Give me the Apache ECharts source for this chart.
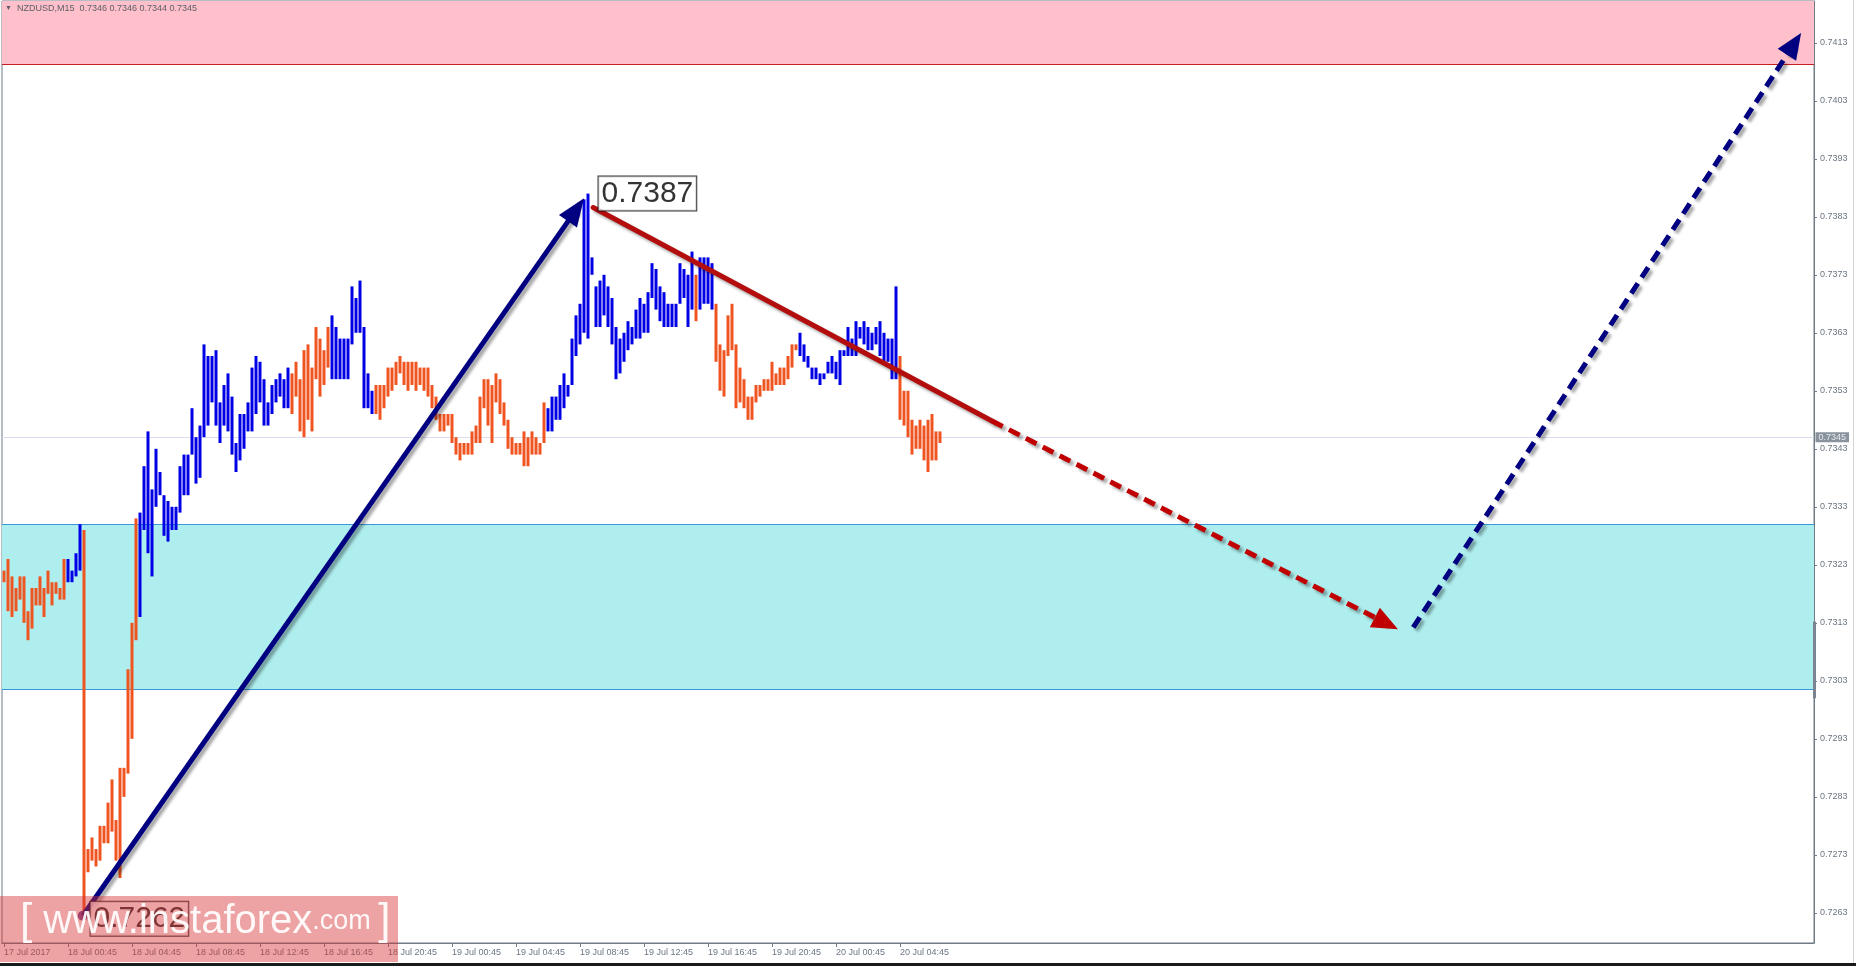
<!DOCTYPE html>
<html><head><meta charset="utf-8">
<script src="https://cdn.jsdelivr.net/npm/echarts@6/dist/echarts.min.js"></script>
<style>html,body{margin:0;padding:0;background:#fff;overflow:hidden}#c{width:1856px;height:966px}</style>
</head><body><div id="c"></div>
<script>
// ---------------- data ----------------
const barHighs = [
0.7322,0.7324,0.7321,0.7319,0.7321,0.7321,0.7315,0.7319,0.7319,0.7321,0.7319,0.7322,0.7320,0.7320,0.7319,0.7324,0.7324,0.7322,0.7325,0.7330,
0.7329,0.7274,0.7276,0.7274,0.7278,0.7278,0.7282,0.7286,0.7279,0.7288,0.7288,0.7305,0.7313,0.7331,0.7332,0.7340,0.7346,0.7336,0.7343,0.7339,
0.7335,0.7334,0.7333,0.7333,0.7340,0.7342,0.7342,0.7350,0.7345,0.7347,0.7361,0.7359,0.7359,0.7360,0.7351,0.7354,0.7356,0.7352,0.7344,0.7349,
0.7349,0.7351,0.7357,0.7359,0.7358,0.7355,0.7351,0.7354,0.7355,0.7356,0.7355,0.7357,0.7356,0.7358,0.7355,0.7360,0.7361,0.7357,0.7364,0.7362,
0.7360,0.7364,0.7366,0.7364,0.7362,0.7362,0.7362,0.7371,0.7369,0.7372,0.7364,0.7356,0.7353,0.7354,0.7354,0.7354,0.7357,0.7357,0.7358,0.7359,
0.7358,0.7358,0.7358,0.7358,0.7357,0.7357,0.7357,0.7354,0.7352,0.7349,0.7349,0.7349,0.7349,0.7345,0.7344,0.7344,0.7344,0.7346,0.7347,0.7352,
0.7355,0.7355,0.7354,0.7356,0.7355,0.7351,0.7348,0.7345,0.7344,0.7344,0.7346,0.7345,0.7346,0.7345,0.7344,0.7351,0.7350,0.7352,0.7352,0.7354,
0.7356,0.7354,0.7362,0.7366,0.7368,0.7386,0.7387,0.7376,0.7371,0.7372,0.7373,0.7371,0.7369,0.7364,0.7362,0.7363,0.7365,0.7364,0.7367,0.7369,
0.7368,0.7370,0.7375,0.7374,0.7371,0.7370,0.7368,0.7368,0.7368,0.7375,0.7374,0.7373,0.7377,0.7373,0.7376,0.7376,0.7376,0.7375,0.7368,0.7361,
0.7360,0.7366,0.7368,0.7361,0.7357,0.7355,0.7352,0.7352,0.7354,0.7354,0.7355,0.7355,0.7358,0.7356,0.7357,0.7357,0.7359,0.7361,0.7361,0.7363,
0.7361,0.7359,0.7357,0.7357,0.7356,0.7356,0.7358,0.7359,0.7358,0.7360,0.7360,0.7364,0.7362,0.7365,0.7364,0.7365,0.7364,0.7363,0.7364,0.7365,
0.7363,0.7362,0.7362,0.7371,0.7359,0.7353,0.7353,0.7348,0.7347,0.7348,0.7347,0.7348,0.7349,0.7346,0.7346
];
const barLows = [
0.7320,0.7315,0.7314,0.7315,0.7317,0.7313,0.7310,0.7312,0.7316,0.7316,0.7314,0.7318,0.7316,0.7318,0.7317,0.7317,0.7320,0.7320,0.7321,0.7322,
0.7262,0.7270,0.7272,0.7271,0.7272,0.7275,0.7275,0.7277,0.7272,0.7269,0.7283,0.7287,0.7293,0.7310,0.7314,0.7329,0.7325,0.7321,0.7333,0.7335,
0.7328,0.7327,0.7329,0.7329,0.7332,0.7335,0.7335,0.7342,0.7337,0.7338,0.7345,0.7347,0.7351,0.7347,0.7344,0.7347,0.7346,0.7342,0.7339,0.7341,
0.7343,0.7346,0.7346,0.7349,0.7351,0.7347,0.7347,0.7349,0.7351,0.7352,0.7350,0.7350,0.7349,0.7352,0.7346,0.7345,0.7348,0.7346,0.7355,0.7352,
0.7354,0.7357,0.7355,0.7355,0.7355,0.7355,0.7355,0.7361,0.7363,0.7363,0.7350,0.7350,0.7349,0.7349,0.7348,0.7350,0.7352,0.7353,0.7354,0.7356,
0.7354,0.7353,0.7354,0.7353,0.7354,0.7353,0.7352,0.7350,0.7348,0.7346,0.7346,0.7347,0.7344,0.7342,0.7341,0.7342,0.7342,0.7342,0.7344,0.7344,
0.7350,0.7347,0.7344,0.7351,0.7349,0.7347,0.7343,0.7342,0.7342,0.7342,0.7340,0.7340,0.7342,0.7342,0.7342,0.7344,0.7346,0.7346,0.7348,0.7348,
0.7350,0.7352,0.7354,0.7359,0.7361,0.7363,0.7362,0.7373,0.7364,0.7364,0.7366,0.7364,0.7361,0.7355,0.7356,0.7358,0.7360,0.7361,0.7362,0.7362,
0.7363,0.7363,0.7369,0.7367,0.7365,0.7364,0.7364,0.7364,0.7364,0.7368,0.7369,0.7364,0.7367,0.7365,0.7367,0.7368,0.7368,0.7367,0.7358,0.7353,
0.7352,0.7359,0.7360,0.7350,0.7351,0.7350,0.7348,0.7348,0.7351,0.7352,0.7353,0.7353,0.7353,0.7354,0.7354,0.7354,0.7355,0.7357,0.7360,0.7359,
0.7358,0.7357,0.7355,0.7355,0.7354,0.7355,0.7356,0.7356,0.7355,0.7354,0.7359,0.7359,0.7359,0.7359,0.7362,0.7361,0.7360,0.7360,0.7361,0.7359,
0.7358,0.7358,0.7355,0.7355,0.7348,0.7347,0.7345,0.7342,0.7343,0.7343,0.7341,0.7339,0.7341,0.7341,0.7344
];
// u = bullish bar (blue), d = bearish bar (orange)
const barDirs = (
'dddddddddddddddd' + 'uuuu' + 'dddddddddddddd' +
'uuuuuuuuuuuuuuuuuuuuuuuuuuuuuuuuuuuuuu' + 'dddddddddd' + 'uuuuuuuuuuu' +
'ddddddddddddddddddddddddddddddddddddddddddd' +
'uuuuuuuuuuuuuuuuuuuuuuuuuuuuuuuuuuuuu' + 'd' + 'uuuu' +
'ddddddddddddddddddddd' + 'uuuuuuuuuuuuuuuuuuuuuuuuu' + 'ddddddddddd').split('');

const firstBarTime = Date.UTC(2017, 6, 17, 20, 45);
const totalSlots = 453;
const xTickTimes = ['17 Jul 20:45','18 Jul 00:45','18 Jul 04:45','18 Jul 08:45','18 Jul 12:45','18 Jul 16:45','18 Jul 20:45',
  '19 Jul 00:45','19 Jul 04:45','19 Jul 08:45','19 Jul 12:45','19 Jul 16:45','19 Jul 20:45','20 Jul 00:45','20 Jul 04:45'];
const xTickTexts = ['17 Jul 2017','18 Jul 00:45','18 Jul 04:45','18 Jul 08:45','18 Jul 12:45','18 Jul 16:45','18 Jul 20:45',
  '19 Jul 00:45','19 Jul 04:45','19 Jul 08:45','19 Jul 12:45','19 Jul 16:45','19 Jul 20:45','20 Jul 00:45','20 Jul 04:45'];
const yTickValues = [0.7263,0.7273,0.7283,0.7293,0.7303,0.7313,0.7323,0.7333,0.7343,0.7353,0.7363,0.7373,0.7383,0.7393,0.7403,0.7413];
const yMin = 0.72578, yMax = 0.74202;
const resistanceZone = [0.74093, 0.74202];
const supportZone = [0.73016, 0.73300];
const lastPrice = 0.7345;
const shiftMarker = [0.73000, 0.73132];
const titleText = 'NZDUSD,M15  0.7346 0.7346 0.7344 0.7345';
const peakPoint = [146, 0.7387];
const troughPoint = [20, 0.7262];
const impulseArrow = [[19.7, 0.72625], [143.0, 0.73842]];
const trendLine = [[147.3, 0.73846], [247.0, 0.73478]];
const downForecast = [[247.0, 0.73478], [345.6, 0.73129]];
const upForecast = [[352.3, 0.73122], [447.5, 0.74128]];

// ---------------- build ----------------
const MONTHS = ['Jan','Feb','Mar','Apr','May','Jun','Jul','Aug','Sep','Oct','Nov','Dec'];
const pad = n => (n < 10 ? '0' : '') + n;
const categories = [];
for (let k = 0; k < totalSlots; k++) {
  const d = new Date(firstBarTime + k * 900000);
  categories.push(d.getUTCDate() + ' ' + MONTHS[d.getUTCMonth()] + ' ' + pad(d.getUTCHours()) + ':' + pad(d.getUTCMinutes()));
}
const tickText = {};
xTickTimes.forEach((t, i) => { tickText[t] = xTickTexts[i]; });
const candleData = barHighs.map((h, i) => {
  const l = barLows[i];
  return barDirs[i] === 'u' ? [l, h, l, h] : [h, l, l, h];
});
const xLeft = -0.5, xRight = totalSlots - 0.5;
const hLine = v => [[xLeft, v], [xRight, v]];

const FONT = 'Liberation Sans, Arial, sans-serif';
const AXIS_COLOR = '#6f7b87';
const LABEL_COLOR = '#6b7682';
const shadow = {shadowColor: 'rgba(0,0,0,0.35)', shadowBlur: 3, shadowOffsetX: 3, shadowOffsetY: 3};

const chart = echarts.init(document.getElementById('c'), null, {renderer: 'canvas'});
const option = {
  animation: false,
  backgroundColor: '#ffffff',
  grid: {left: 2, right: 42, top: 1, bottom: 23, show: true, borderColor: AXIS_COLOR, borderWidth: 1, backgroundColor: 'transparent'},
  xAxis: [{
    type: 'category', data: categories, boundaryGap: true,
    axisLine: {show: true, onZero: false, lineStyle: {color: AXIS_COLOR, width: 1}},
    axisTick: {show: true, alignWithLabel: true, length: 4, interval: (i, v) => v in tickText, lineStyle: {color: AXIS_COLOR}},
    axisLabel: {show: true, interval: (i, v) => v in tickText, formatter: v => tickText[v] || '', align: 'left',
      color: LABEL_COLOR, fontSize: 9, fontFamily: FONT, margin: 5, hideOverlap: false},
    splitLine: {show: false}
  }, {
    type: 'value', min: xLeft, max: xRight, show: false,
    axisLine: {onZero: false}
  }],
  yAxis: [{
    type: 'value', position: 'right', min: yMin, max: yMax,
    axisLine: {show: true, onZero: false, lineStyle: {color: AXIS_COLOR, width: 1}},
    axisTick: {show: true, length: 3, customValues: yTickValues, lineStyle: {color: AXIS_COLOR}},
    axisLabel: {show: true, customValues: yTickValues, formatter: v => v.toFixed(4), color: LABEL_COLOR, fontSize: 9, fontFamily: FONT, margin: 6},
    splitLine: {show: false}
  }],
  series: [
    {
      name: 'zones', type: 'line', data: [], xAxisIndex: 0, yAxisIndex: 0, z: 1, silent: true,
      markArea: {silent: true, data: [
        [{yAxis: resistanceZone[0], itemStyle: {color: '#ffc0cb'}}, {yAxis: resistanceZone[1]}],
        [{yAxis: supportZone[0], itemStyle: {color: '#afeeee'}}, {yAxis: supportZone[1]}]
      ]}
    },
    {
      name: 'levels', type: 'lines', coordinateSystem: 'cartesian2d', xAxisIndex: 1, yAxisIndex: 0, z: 2, silent: true,
      symbol: ['none', 'none'],
      lineStyle: {width: 1, opacity: 1, type: 'solid', curveness: 0},
      data: [
        {coords: hLine(resistanceZone[0]), lineStyle: {color: '#c81e1e'}},
        {coords: hLine(supportZone[1]), lineStyle: {color: '#3a98d8'}},
        {coords: hLine(supportZone[0]), lineStyle: {color: '#3a98d8'}},
        {coords: hLine(lastPrice), lineStyle: {color: '#dcdcf0'}}
      ]
    },
    {
      name: 'shift marker', type: 'lines', coordinateSystem: 'cartesian2d', xAxisIndex: 1, yAxisIndex: 0, z: 9, silent: true,
      clip: false, symbol: ['none', 'none'],
      lineStyle: {width: 3, opacity: 1, color: '#7a8591', curveness: 0},
      data: [{coords: [[xRight, shiftMarker[0]], [xRight, shiftMarker[1]]]}]
    },
    {
      name: 'NZDUSD', type: 'candlestick', xAxisIndex: 0, yAxisIndex: 0, z: 3, barWidth: 3,
      data: candleData,
      itemStyle: {color: '#0000e6', color0: '#ee5520', borderColor: '#0000e6', borderColor0: '#ee5520', borderWidth: 0}
    },
    {
      name: 'trend', type: 'lines', coordinateSystem: 'cartesian2d', xAxisIndex: 1, yAxisIndex: 0, z: 5,
      symbol: ['none', 'none'],
      lineStyle: Object.assign({color: '#b30d0d', width: 5, type: 'solid', opacity: 1, curveness: 0, cap: 'round'}, shadow),
      data: [{coords: trendLine}]
    },
    {
      name: 'impulse', type: 'lines', coordinateSystem: 'cartesian2d', xAxisIndex: 1, yAxisIndex: 0, z: 5,
      symbol: ['none', 'triangle'], symbolSize: [0, [22, 28]],
      lineStyle: Object.assign({color: '#000080', width: 5, type: 'solid', opacity: 1, curveness: 0}, shadow),
      data: [{coords: impulseArrow}]
    },
    {
      name: 'down forecast', type: 'lines', coordinateSystem: 'cartesian2d', xAxisIndex: 1, yAxisIndex: 0, z: 5,
      symbol: ['none', 'triangle'], symbolSize: [0, [22, 26]],
      lineStyle: Object.assign({color: '#c00000', width: 5, type: [12, 7], opacity: 1, curveness: 0}, shadow),
      data: [{coords: downForecast}]
    },
    {
      name: 'up forecast', type: 'lines', coordinateSystem: 'cartesian2d', xAxisIndex: 1, yAxisIndex: 0, z: 5,
      symbol: ['none', 'triangle'], symbolSize: [0, [22, 26]],
      lineStyle: Object.assign({color: '#000080', width: 5, type: [12, 7], opacity: 1, curveness: 0}, shadow),
      data: [{coords: upForecast}]
    },
    {
      name: 'start', type: 'scatter', xAxisIndex: 1, yAxisIndex: 0, z: 6, symbol: 'circle', symbolSize: 10,
      itemStyle: {color: '#5c1f7c'}, data: [impulseArrow[0]]
    },
    {
      name: 'price labels', type: 'scatter', xAxisIndex: 1, yAxisIndex: 0, z: 7, symbolSize: 1,
      itemStyle: {color: 'rgba(0,0,0,0)'},
      label: {show: true, position: 'right', formatter: p => p.value[1].toFixed(4), fontSize: 30, fontFamily: FONT,
        color: '#000000', backgroundColor: '#ffffff', borderColor: '#000000', borderWidth: 1, padding: [3, 3, 1, 3]},
      data: [
        {value: peakPoint, label: {distance: 10}},
        {value: troughPoint, label: {distance: 6}}
      ]
    },
    {
      name: 'last price', type: 'scatter', xAxisIndex: 1, yAxisIndex: 0, z: 8, symbolSize: 1, clip: false,
      itemStyle: {color: 'rgba(0,0,0,0)'},
      label: {show: true, position: 'right', distance: 1, formatter: p => p.value[1].toFixed(4), backgroundColor: '#6c7884',
        color: '#ffffff', fontSize: 9, fontFamily: FONT, padding: [1, 3, 0, 3]},
      data: [[xRight, lastPrice]]
    }
  ],
  graphic: [
    {type: 'text', left: 5, top: 4, z: 20, silent: true,
      style: {text: '{t|\u25BC}  ' + titleText, fill: '#5a5f66', font: '9px ' + FONT,
        rich: {t: {fontSize: 7, fill: '#5a5f66'}}}},
    {type: 'rect', z: 40, silent: true, shape: {x: 0, y: 896, width: 398, height: 66},
      style: {fill: 'rgba(215,50,50,0.45)'}},
    {type: 'text', z: 41, silent: true, x: 20, y: 944,
      style: {text: '{br|[}{b| www.instaforex}{s|.com }{br|]}', fill: 'rgba(255,255,255,0.92)', verticalAlign: 'bottom',
        rich: {
          br: {fontSize: 44, fontFamily: FONT, fill: 'rgba(255,255,255,0.92)'},
          b: {fontSize: 40, fontFamily: FONT, fill: 'rgba(255,255,255,0.92)'},
          s: {fontSize: 27, fontFamily: FONT, fill: 'rgba(255,255,255,0.92)'}
        }}},
    {type: 'rect', z: 42, silent: true, shape: {x: 0, y: 963, width: 1856, height: 3}, style: {fill: '#1a1a1a'}},
    {type: 'rect', z: 42, silent: true, shape: {x: 1853, y: 0, width: 1, height: 963}, style: {fill: '#d4d4d4'}}
  ]
};
chart.setOption(option);
</script>
</body></html>
